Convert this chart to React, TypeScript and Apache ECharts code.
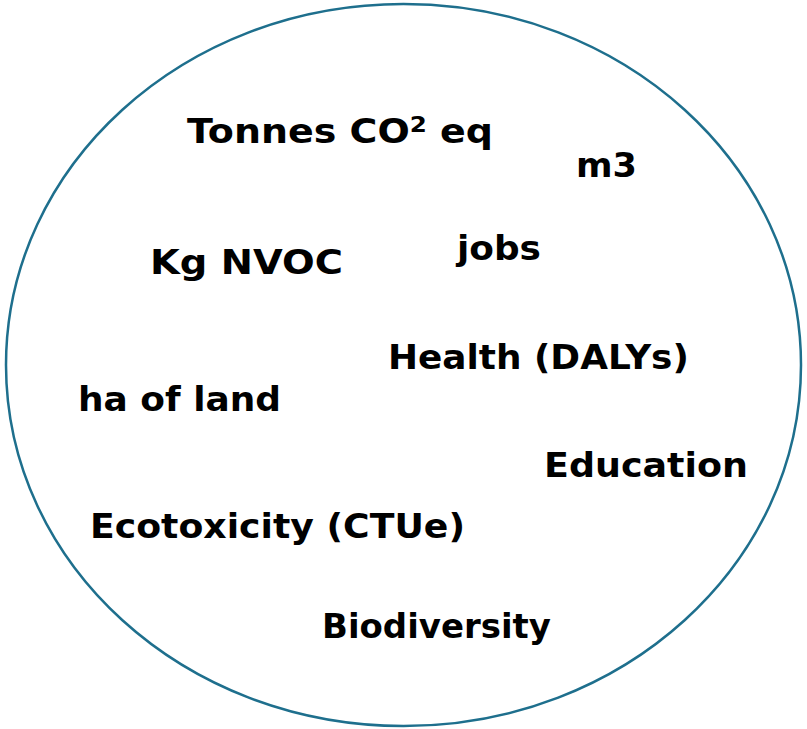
import React, { useEffect, useRef } from "react";
import * as echarts from "echarts";

// Labels inside the ellipse (text content)
const labels: string[] = [
  "Tonnes CO{sup|2} eq",
  "m3",
  "jobs",
  "Kg NVOC",
  "Health (DALYs)",
  "ha of land",
  "Education",
  "Ecotoxicity (CTUe)",
  "Biodiversity",
];
// Left x, right x and vertical centre y of each label
const labelX: number[] = [187, 576, 457, 150, 388, 78, 544, 90, 322];
const labelRight: number[] = [493, 637, 541, 343, 689, 281, 748, 465, 551];
const labelY: number[] = [131, 165, 248, 262, 357, 399, 465, 526, 626];

const FONT = "'DejaVu Sans', 'Noto Sans', sans-serif";
const SIZE = 34;
const SUP = 22;

function measure(t: string): number {
  const c = document.createElement("canvas").getContext("2d");
  if (!c) return 1;
  let w = 0;
  const parts = t.split(/(\{sup\|[^}]*\})/);
  for (const p of parts) {
    const m = p.match(/^\{sup\|([^}]*)\}$/);
    if (m) {
      c.font = `bold ${SUP}px ${FONT}`;
      w += c.measureText(m[1]).width;
    } else if (p) {
      c.font = `bold ${SIZE}px ${FONT}`;
      w += c.measureText(p).width;
    }
  }
  return w || 1;
}

export default function App() {
  const ref = useRef<HTMLDivElement>(null);
  useEffect(() => {
    if (!ref.current) return;
    const chart = echarts.init(ref.current, null, { renderer: "svg" });
    const textEls = labels.map((t, i) => {
      const w = measure(t);
      const sx = (labelRight[i] - labelX[i]) / w;
      return {
        type: "text",
        x: labelX[i],
        y: labelY[i],
        scaleX: sx,
        style: {
          text: t,
          fill: "#000",
          font: `bold ${SIZE}px ${FONT}`,
          fontFamily: FONT,
          fontWeight: "bold",
          fontSize: SIZE,
          textAlign: "left",
          textVerticalAlign: "middle",
          rich: {
            sup: {
              fontFamily: FONT,
              fontWeight: "bold",
              fontSize: SUP,
              fill: "#000",
              verticalAlign: "top",
              padding: [0, 0, 14, 0],
            },
          },
        },
      };
    });
    chart.setOption({
      animation: false,
      backgroundColor: "#ffffff",
      graphic: [
        {
          type: "ellipse",
          shape: { cx: 403.5, cy: 365, rx: 397.5, ry: 361 },
          style: { fill: "none", stroke: "#1e6f8d", lineWidth: 2.5 },
        },
        ...textEls,
      ],
    });
    return () => chart.dispose();
  }, []);
  return (
    <div
      ref={ref}
      style={{ position: "fixed", left: 0, top: 0, width: 807, height: 729, background: "#fff" }}
    />
  );
}
